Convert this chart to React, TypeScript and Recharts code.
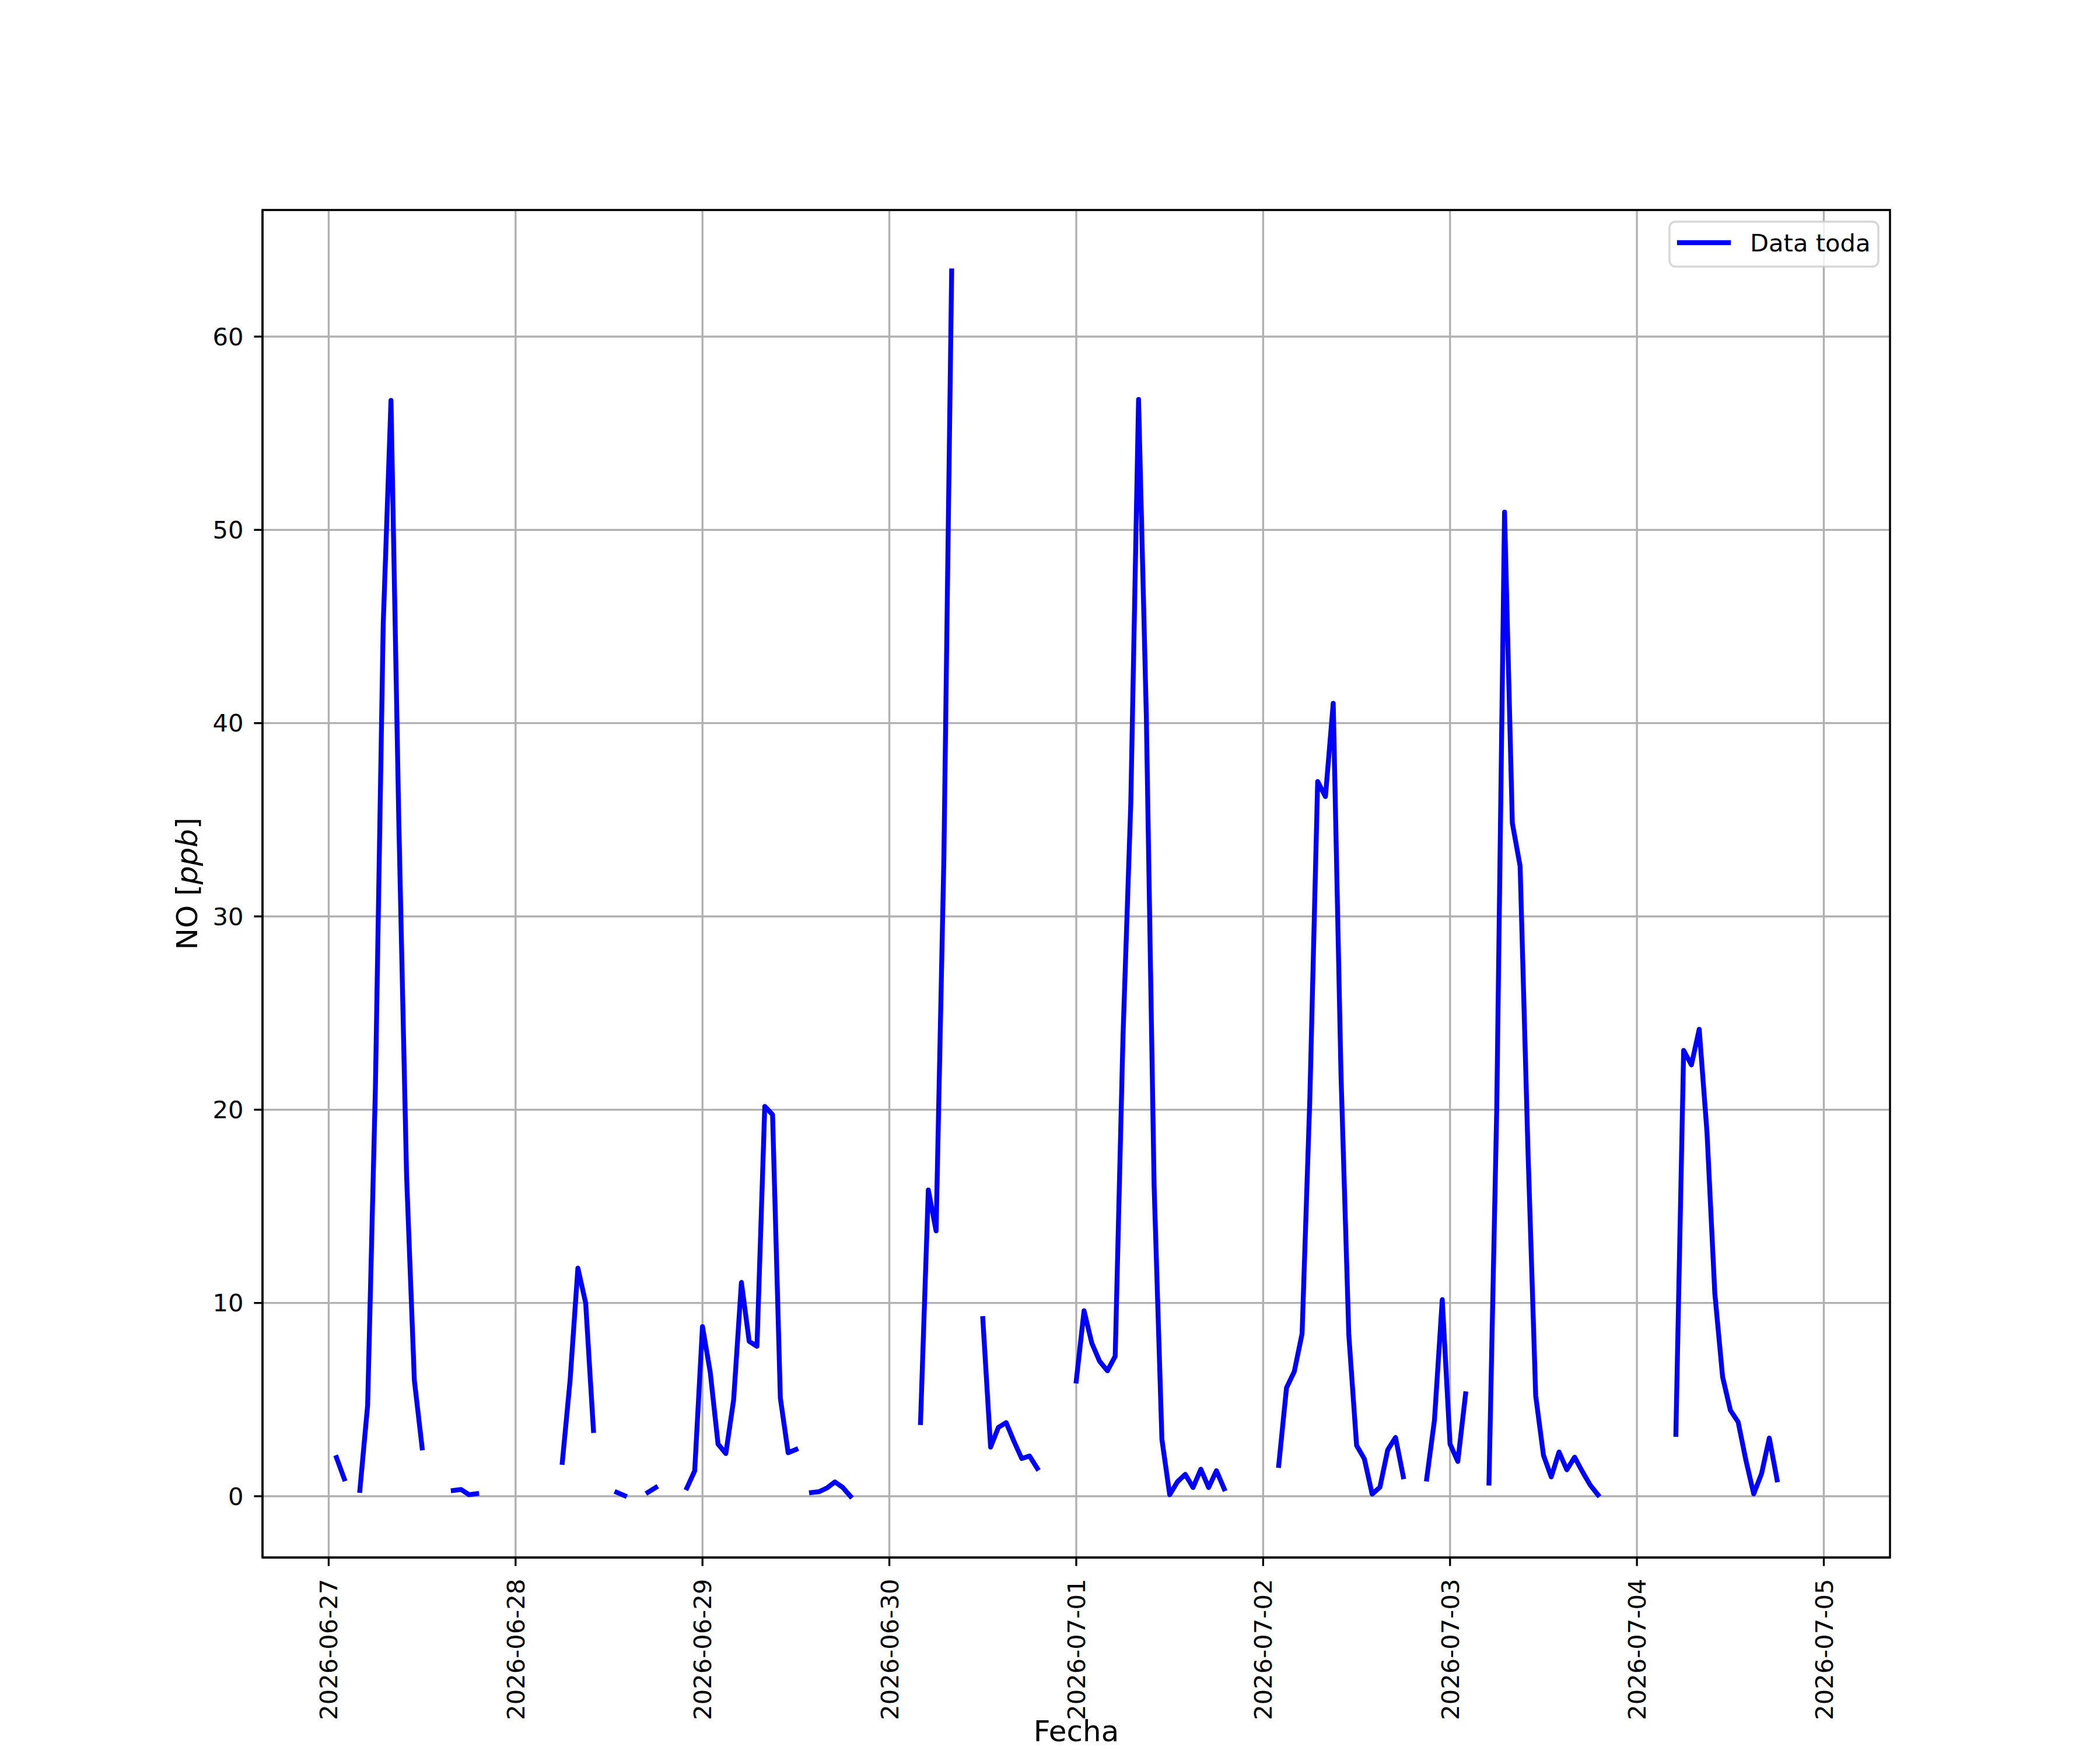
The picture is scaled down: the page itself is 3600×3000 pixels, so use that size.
import { LineChart, Line, XAxis, YAxis, CartesianGrid, Legend, ReferenceArea } from "recharts";

// hourly NO readings [ppb], one array per day (index = hour), null = no data
const no0627 = [null, 2.0, 0.9, null, 0.3, 4.7, 21.2, 45.1, 56.7, 35.0, 16.6, 6.0, 2.5, null, null, null, 0.3, 0.35, 0.08, 0.13, null, null, null, null];
const no0628 = [null, null, null, null, null, null, 1.75, 6.0, 11.8, 10.0, 3.4, null, null, 0.2, 0.03, null, null, 0.2, 0.45, null, null, null, 0.43, 1.31];
const no0629 = [8.78, 6.41, 2.7, 2.21, 4.98, 11.06, 8.01, 7.76, 20.17, 19.74, 5.08, 2.25, 2.42, null, 0.19, 0.24, 0.43, 0.74, 0.46, 0.0, null, null, null, null];
const no0630 = [null, null, null, null, 3.81, 15.85, 13.73, 33.0, 63.4, null, null, null, 9.19, 2.54, 3.56, 3.81, 2.84, 1.95, 2.08, 1.44, null, null, null, null];
const no0701 = [5.96, 9.6, 7.92, 6.98, 6.49, 7.24, 23.76, 35.82, 56.75, 40.35, 16.03, 2.94, 0.08, 0.75, 1.13, 0.45, 1.4, 0.45, 1.32, 0.38, null, null, null, null];
const no0702 = [null, null, 1.59, 5.61, 6.45, 8.41, 20.64, 36.98, 36.2, 41.03, 21.76, 8.35, 2.63, 1.93, 0.11, 0.47, 2.4, 3.04, 1.01, null, null, 0.89, 3.94, 10.17];
const no0703 = [2.7, 1.8, 5.3, null, null, 0.68, 20.1, 50.92, 34.83, 32.6, 18.0, 5.2, 2.12, 1.0, 2.29, 1.37, 2.02, 1.27, 0.58, 0.07, null, null, null, null];
const no0704 = [null, null, null, null, null, 3.2, 23.07, 22.32, 24.16, 18.82, 10.51, 6.18, 4.45, 3.84, 1.85, 0.12, 1.16, 3.01, 0.85, null, null, null, null, null];

const dayValues = [no0627, no0628, no0629, no0630, no0701, no0702, no0703, no0704];

const xTickLabels = [
  "2026-06-27",
  "2026-06-28",
  "2026-06-29",
  "2026-06-30",
  "2026-07-01",
  "2026-07-02",
  "2026-07-03",
  "2026-07-04",
  "2026-07-05",
];
const xTicks = xTickLabels.map((_, i) => i * 24);
const yTicks = [0, 10, 20, 30, 40, 50, 60];

const data = dayValues.flatMap((vals, d) =>
  vals.map((v, h) => ({ t: d * 24 + h, no: v }))
);

const X_DOMAIN = [-8.5, 200.5];
const Y_DOMAIN = [-3.17, 66.55];

const FONT = "DejaVu Sans";
const TICK_FS = 41.67;
const LABEL_FS = 50;
const LW = 3.33;

function DateTick(props: any) {
  const { x, y, payload } = props;
  return (
    <g transform={`translate(${x},${y})`}>
      <text
        transform="rotate(-90)"
        textAnchor="end"
        dy="0.36em"
        fontFamily={FONT}
        fontSize={TICK_FS}
        fill="#000"
      >
        {xTickLabels[xTicks.indexOf(payload.value)]}
      </text>
    </g>
  );
}

function XLabel(props: any) {
  const vb = props.viewBox;
  return (
    <text
      x={vb.x + vb.width / 2}
      y={vb.y + 315}
      textAnchor="middle"
      fontFamily={FONT}
      fontSize={LABEL_FS}
      fill="#000"
    >
      Fecha
    </text>
  );
}

function YLabel(props: any) {
  const vb = props.viewBox;
  const cx = vb.x + 338;
  const cy = vb.y + vb.height / 2;
  return (
    <text
      x={cx}
      y={cy}
      transform={`rotate(-90, ${cx}, ${cy})`}
      textAnchor="middle"
      fontFamily={FONT}
      fontSize={LABEL_FS}
      fill="#000"
    >
      NO [<tspan fontStyle="italic">ppb</tspan>]
    </text>
  );
}

function LegendBox() {
  return (
    <svg width={362} height={81} style={{ display: "block" }}>
      <rect
        x={2}
        y={2}
        width={358}
        height={77}
        rx={10}
        fill="#ffffff"
        fillOpacity={0.8}
        stroke="#cccccc"
        strokeOpacity={0.8}
        strokeWidth={LW}
      />
      <line x1={19} x2={103} y1={38} y2={38} stroke="#0000ff" strokeWidth={8.33} strokeLinecap="square" />
      <text x={140} y={53} fontFamily={FONT} fontSize={TICK_FS} fill="#000">
        Data toda
      </text>
    </svg>
  );
}

export default function App() {
  return (
    <div style={{ width: 3600, height: 3000, background: "#fff" }}>
      <style>{"body{margin:0}"}</style>
      <LineChart
        width={3600}
        height={3000}
        data={data}
        margin={{ top: 360, right: 360, bottom: 0, left: 0 }}
      >
        <CartesianGrid stroke="#b0b0b0" strokeWidth={LW} />
        <XAxis
          dataKey="t"
          type="number"
          domain={X_DOMAIN}
          allowDataOverflow
          ticks={xTicks}
          interval={0}
          height={330}
          tickSize={14.6}
          tickMargin={22}
          tick={<DateTick />}
          stroke="#000"
          tickLine={{ stroke: "#000", strokeWidth: LW }}
          axisLine={{ stroke: "#000", strokeWidth: LW }}
          label={<XLabel />}
        />
        <YAxis
          type="number"
          domain={Y_DOMAIN}
          allowDataOverflow
          ticks={yTicks}
          interval={0}
          width={450}
          tickSize={14.6}
          tickMargin={18}
          tick={{ fontFamily: FONT, fontSize: TICK_FS, fill: "#000" }}
          stroke="#000"
          tickLine={{ stroke: "#000", strokeWidth: LW }}
          axisLine={{ stroke: "#000", strokeWidth: LW }}
          label={<YLabel />}
        />
        {/* axes frame (top/right spines) */}
        <ReferenceArea
          x1={X_DOMAIN[0]}
          x2={X_DOMAIN[1]}
          y1={Y_DOMAIN[0]}
          y2={Y_DOMAIN[1]}
          ifOverflow="visible"
          fill="none"
          fillOpacity={0}
          stroke="#000"
          strokeWidth={LW}
          strokeOpacity={1}
        />
        <Legend
          layout="horizontal"
          verticalAlign="middle"
          align="center"
          content={() => <LegendBox />}
          wrapperStyle={{ position: "absolute", left: 2860, top: 378, width: 362, height: 81 }}
        />
        <Line
          type="linear"
          dataKey="no"
          name="Data toda"
          stroke="#0000ff"
          strokeWidth={8.33}
          strokeLinecap="square"
          strokeLinejoin="round"
          dot={false}
          activeDot={false}
          connectNulls={false}
          isAnimationActive={false}
        />
      </LineChart>
    </div>
  );
}
